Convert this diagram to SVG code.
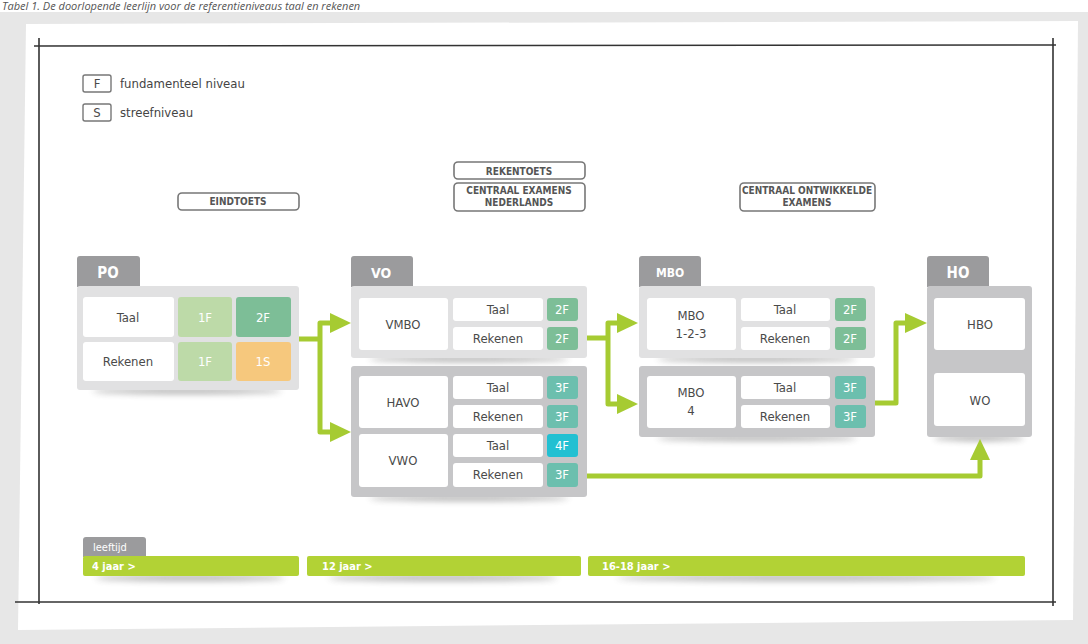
<svg xmlns="http://www.w3.org/2000/svg" width="1088" height="644" viewBox="0 0 1088 644">
<defs>
<style>
.lbl{fill:#fff;stroke:#777;stroke-width:1.6}
.lt{font-family:"DejaVu Sans Condensed","DejaVu Sans",sans-serif;font-size:10px;font-weight:bold;fill:#555;text-anchor:middle}
.tab{fill:#9b9b9d}
.tabt{font-family:"DejaVu Sans Condensed","DejaVu Sans",sans-serif;font-weight:bold;fill:#fff;text-anchor:middle}
.cell{fill:#fff}
.ct{font-family:"DejaVu Sans Condensed","DejaVu Sans",sans-serif;font-size:13px;fill:#4a4a4a;text-anchor:middle}
.chip{font-family:"DejaVu Sans Condensed","DejaVu Sans",sans-serif;font-size:13px;fill:#fff;text-anchor:middle}
.light{fill:#e1e1e2}
.dark{fill:#c6c6c8}
.g1{fill:#bddaa8}.g2{fill:#7dbe97}.or{fill:#f6c87d}.t3{fill:#6cbfae}.c4{fill:#22c0d2}
.con{fill:none;stroke:#a6cb32;stroke-width:5;stroke-linejoin:round}
.ah{fill:#a6cb32}
.frame{stroke:#333;stroke-width:1.6;fill:none}
.bar{fill:#b2d235}
.bt{font-family:"DejaVu Sans Condensed","DejaVu Sans",sans-serif;font-size:11px;fill:#fff}
</style>
<filter id="sh" x="-20%" y="-200%" width="140%" height="500%"><feGaussianBlur stdDeviation="3"/></filter>
</defs>
<rect width="1088" height="644" fill="#e7e7e7"/>
<rect width="1088" height="12" fill="#fff"/>
<text x="2" y="10" font-family="'Open Sans',sans-serif" font-style="italic" font-size="11" fill="#555">Tabel 1. De doorlopende leerlijn voor de referentieniveaus taal en rekenen</text>
<polygon points="26,24 1078,21 1073,620 18,630" fill="#fff"/>
<g id="frame">
<line class="frame" x1="34" y1="46" x2="1056" y2="45"/>
<line class="frame" x1="39" y1="38" x2="39" y2="604"/>
<line class="frame" x1="1053" y1="38" x2="1053" y2="606"/>
<line class="frame" x1="15" y1="602" x2="1056" y2="602"/>
</g>
<g id="legend">
<rect x="83" y="75" width="28" height="17" rx="2" fill="#fff" stroke="#777" stroke-width="1.4"/>
<text x="97" y="88" class="ct" font-size="12">F</text>
<text x="120" y="88" font-family="'DejaVu Sans Condensed',sans-serif" font-size="13" fill="#444">fundamenteel niveau</text>
<rect x="83" y="104" width="28" height="17" rx="2" fill="#fff" stroke="#777" stroke-width="1.4"/>
<text x="97" y="117" class="ct" font-size="12">S</text>
<text x="120" y="117" font-family="'DejaVu Sans Condensed',sans-serif" font-size="13" fill="#444">streefniveau</text>
</g>
<g id="labels">
<rect class="lbl" x="178" y="193" width="121" height="17" rx="4"/>
<text class="lt" x="238" y="205">EINDTOETS</text>
<rect class="lbl" x="454" y="162" width="131" height="17" rx="4"/>
<text class="lt" x="519" y="175" font-size="11">REKENTOETS</text>
<rect class="lbl" x="454" y="183" width="131" height="28" rx="4"/>
<text class="lt" x="519" y="194">CENTRAAL EXAMENS</text>
<text class="lt" x="519" y="206">NEDERLANDS</text>
<rect class="lbl" x="740" y="183" width="135" height="28" rx="4"/>
<text class="lt" x="807" y="194">CENTRAAL ONTWIKKELDE</text>
<text class="lt" x="807" y="206">EXAMENS</text>
</g>
<g id="shadows" fill="#555" opacity="0.45" filter="url(#sh)">
<ellipse cx="187" cy="391" rx="95" ry="3"/>
<ellipse cx="469" cy="359" rx="100" ry="3"/>
<ellipse cx="469" cy="498" rx="100" ry="3"/>
<ellipse cx="757" cy="359" rx="100" ry="3"/>
<ellipse cx="757" cy="438" rx="100" ry="3"/>
<ellipse cx="979" cy="438" rx="45" ry="3"/>
<ellipse cx="190" cy="578" rx="95" ry="3"/>
<ellipse cx="443" cy="578" rx="115" ry="3"/>
<ellipse cx="806" cy="578" rx="190" ry="3"/>
</g>
<g id="PO">
<path class="tab" d="M77,287 V259 a3,3 0 0 1 3,-3 H137 a3,3 0 0 1 3,3 V287 Z"/>
<text class="tabt" x="108" y="278" font-size="15">PO</text>
<rect class="light" x="77" y="286" width="222" height="104" rx="3"/>
<rect class="cell" x="83" y="297" width="91" height="40" rx="3"/>
<text class="ct" x="128" y="322">Taal</text>
<rect class="g1" x="178" y="297" width="54" height="40" rx="3"/>
<text class="chip" x="205" y="322">1F</text>
<rect class="g2" x="236" y="297" width="55" height="40" rx="3"/>
<text class="chip" x="263" y="322">2F</text>
<rect class="cell" x="83" y="342" width="91" height="39" rx="3"/>
<text class="ct" x="128" y="366">Rekenen</text>
<rect class="g1" x="178" y="342" width="54" height="39" rx="3"/>
<text class="chip" x="205" y="366">1F</text>
<rect class="or" x="236" y="342" width="55" height="39" rx="3"/>
<text class="chip" x="263" y="366">1S</text>
</g>
<g id="VO">
<path class="tab" d="M351,287 V259 a3,3 0 0 1 3,-3 H410 a3,3 0 0 1 3,3 V287 Z"/>
<text class="tabt" x="381" y="278" font-size="14">VO</text>
<rect class="light" x="351" y="286" width="236" height="72" rx="3"/>
<rect class="cell" x="359" y="298" width="89" height="52" rx="3"/>
<text class="ct" x="403" y="329">VMBO</text>
<rect class="cell" x="453" y="298" width="90" height="23" rx="3"/>
<text class="ct" x="498" y="314">Taal</text>
<rect class="cell" x="453" y="327" width="90" height="23" rx="3"/>
<text class="ct" x="498" y="343">Rekenen</text>
<rect class="g2" x="547" y="298" width="31" height="23" rx="3"/>
<text class="chip" x="562" y="314">2F</text>
<rect class="g2" x="547" y="327" width="31" height="23" rx="3"/>
<text class="chip" x="562" y="343">2F</text>
<rect class="dark" x="351" y="366" width="236" height="131" rx="3"/>
<rect class="cell" x="359" y="376" width="89" height="52" rx="3"/>
<text class="ct" x="403" y="407">HAVO</text>
<rect class="cell" x="453" y="376" width="90" height="23" rx="3"/>
<text class="ct" x="498" y="392">Taal</text>
<rect class="cell" x="453" y="405" width="90" height="23" rx="3"/>
<text class="ct" x="498" y="421">Rekenen</text>
<rect class="t3" x="547" y="376" width="31" height="23" rx="3"/>
<text class="chip" x="562" y="392">3F</text>
<rect class="t3" x="547" y="405" width="31" height="23" rx="3"/>
<text class="chip" x="562" y="421">3F</text>
<rect class="cell" x="359" y="434" width="89" height="53" rx="3"/>
<text class="ct" x="403" y="465">VWO</text>
<rect class="cell" x="453" y="434" width="90" height="23" rx="3"/>
<text class="ct" x="498" y="450">Taal</text>
<rect class="cell" x="453" y="463" width="90" height="24" rx="3"/>
<text class="ct" x="498" y="479">Rekenen</text>
<rect class="c4" x="547" y="434" width="31" height="23" rx="3"/>
<text class="chip" x="562" y="450">4F</text>
<rect class="t3" x="547" y="463" width="31" height="24" rx="3"/>
<text class="chip" x="562" y="479">3F</text>
</g>
<g id="MBO">
<path class="tab" d="M639,287 V259 a3,3 0 0 1 3,-3 H698 a3,3 0 0 1 3,3 V287 Z"/>
<text class="tabt" x="670" y="277" font-size="12">MBO</text>
<rect class="light" x="639" y="286" width="236" height="72" rx="3"/>
<rect class="cell" x="647" y="298" width="89" height="52" rx="3"/>
<text class="ct" x="691" y="320">MBO</text>
<text class="ct" x="691" y="338">1-2-3</text>
<rect class="cell" x="741" y="298" width="89" height="23" rx="3"/>
<text class="ct" x="785" y="314">Taal</text>
<rect class="cell" x="741" y="327" width="89" height="23" rx="3"/>
<text class="ct" x="785" y="343">Rekenen</text>
<rect class="g2" x="835" y="298" width="31" height="23" rx="3"/>
<text class="chip" x="850" y="314">2F</text>
<rect class="g2" x="835" y="327" width="31" height="23" rx="3"/>
<text class="chip" x="850" y="343">2F</text>
<rect class="dark" x="639" y="366" width="236" height="71" rx="3"/>
<rect class="cell" x="647" y="376" width="89" height="52" rx="3"/>
<text class="ct" x="691" y="397">MBO</text>
<text class="ct" x="691" y="415">4</text>
<rect class="cell" x="741" y="376" width="89" height="23" rx="3"/>
<text class="ct" x="785" y="392">Taal</text>
<rect class="cell" x="741" y="405" width="89" height="23" rx="3"/>
<text class="ct" x="785" y="421">Rekenen</text>
<rect class="t3" x="835" y="376" width="31" height="23" rx="3"/>
<text class="chip" x="850" y="392">3F</text>
<rect class="t3" x="835" y="405" width="31" height="23" rx="3"/>
<text class="chip" x="850" y="421">3F</text>
</g>
<g id="HO">
<path class="tab" d="M927,287 V259 a3,3 0 0 1 3,-3 H986 a3,3 0 0 1 3,3 V287 Z"/>
<text class="tabt" x="958" y="278" font-size="15">HO</text>
<rect class="dark" x="927" y="286" width="105" height="151" rx="3"/>
<rect class="cell" x="934" y="298" width="91" height="52" rx="3"/>
<text class="ct" x="980" y="329">HBO</text>
<rect class="cell" x="934" y="373" width="91" height="53" rx="3"/>
<text class="ct" x="980" y="405">WO</text>
</g>
<g id="connectors">
<path class="con" d="M299,339 H320 V323 H332 M320,339 V432 H332"/>
<polygon class="ah" points="330,313 351,323 330,333"/>
<polygon class="ah" points="330,422 351,432 330,442"/>
<path class="con" d="M587,338 H608 V323 H620 M608,338 V404 H620"/>
<polygon class="ah" points="617,313 638,323 617,333"/>
<polygon class="ah" points="617,394 638,404 617,414"/>
<path class="con" d="M875,403 H896 V323 H908"/>
<polygon class="ah" points="905,313 927,323 905,333"/>
<path class="con" d="M587,476 H980 V458"/>
<polygon class="ah" points="970,460 980,439 990,460"/>
</g>
<g id="age">
<path class="tab" d="M83,557 V540 a3,3 0 0 1 3,-3 H143 a3,3 0 0 1 3,3 V557 Z"/>
<text class="bt" x="93" y="551">leeftijd</text>
<rect class="bar" x="83" y="556" width="216" height="20" rx="2"/>
<text class="bt" x="92" y="570" font-weight="bold">4 jaar &gt;</text>
<rect class="bar" x="307" y="556" width="274" height="20" rx="2"/>
<text class="bt" x="322" y="570" font-weight="bold">12 jaar &gt;</text>
<rect class="bar" x="588" y="556" width="437" height="20" rx="2"/>
<text class="bt" x="602" y="570" font-weight="bold">16-18 jaar &gt;</text>
</g>
</svg>
